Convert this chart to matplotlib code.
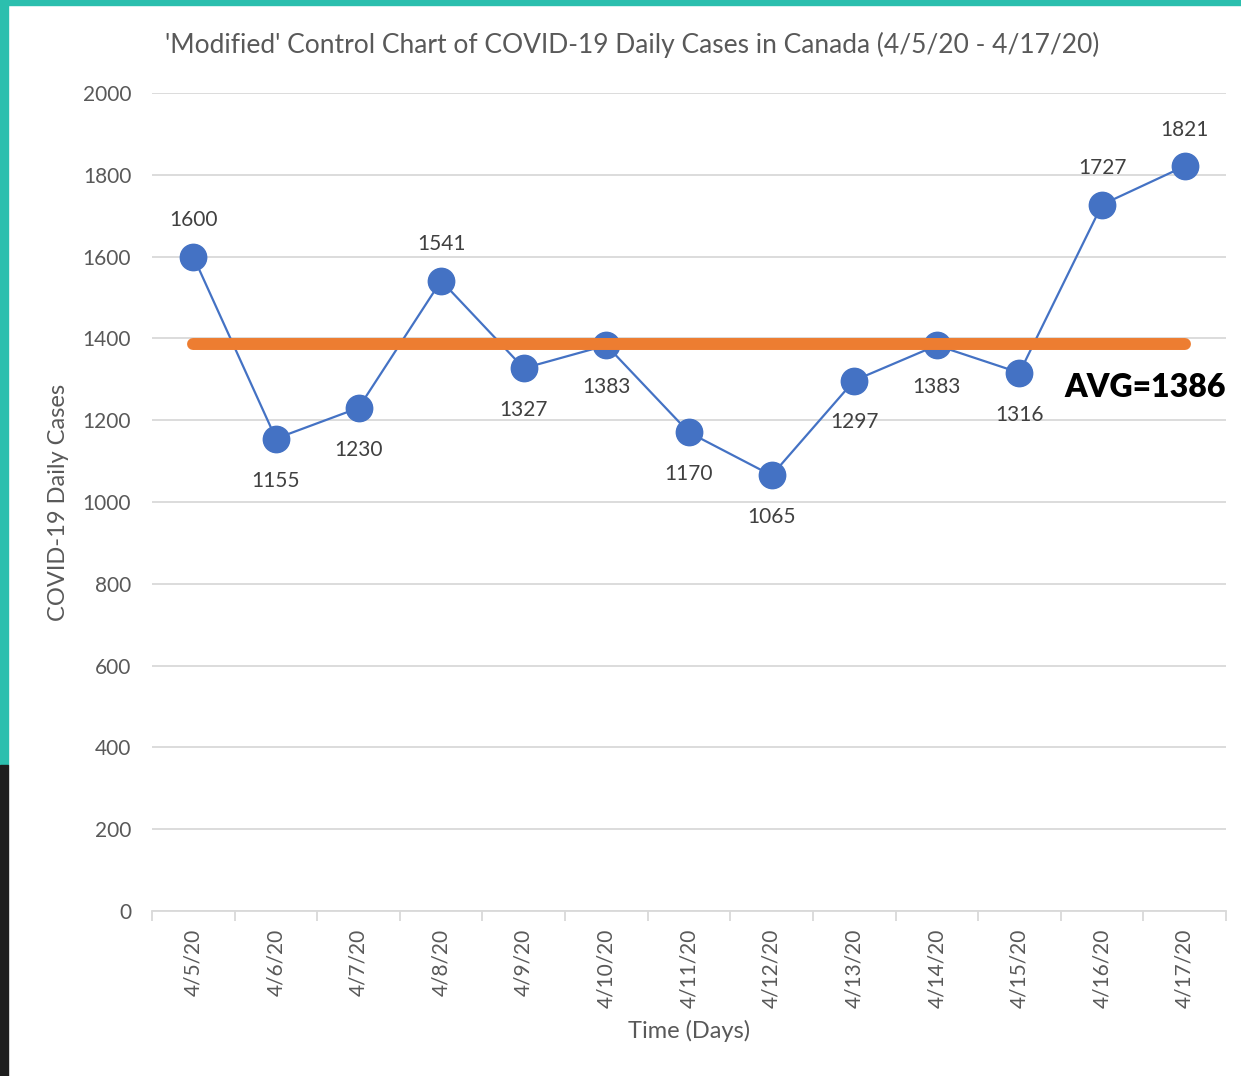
"""Modified control chart of COVID-19 daily cases in Canada"""

import matplotlib.pyplot as plt
from matplotlib.patches import Rectangle

days = ["4/5/20", "4/6/20", "4/7/20", "4/8/20", "4/9/20", "4/10/20", "4/11/20",
        "4/12/20", "4/13/20", "4/14/20", "4/15/20", "4/16/20", "4/17/20"]
cases = [1600, 1155, 1230, 1541, 1327, 1383, 1170, 1065, 1297, 1383, 1316, 1727, 1821]
avg = 1386
label_above = [True, False, False, True, False, False, False,
               False, False, False, False, True, True]

plt.rcParams["font.family"] = ["Lato", "DejaVu Sans"]
gray = "#595959"

fig = plt.figure(figsize=(12.41, 10.76), dpi=100)

# screenshot frame: teal border top/left, dark strip lower left
fig.patches.append(Rectangle((0, 0.995), 1, 0.005, transform=fig.transFigure,
                             color="#2bbfae", zorder=0))
fig.patches.append(Rectangle((0, 0.289), 0.0065, 0.711, transform=fig.transFigure,
                             color="#2bbfae", zorder=0))
fig.patches.append(Rectangle((0, 0), 0.0065, 0.289, transform=fig.transFigure,
                             color="#1e1e1e", zorder=0))

ax = fig.add_axes([0.1225, 0.1533, 0.8654, 0.7603])
x = list(range(len(days)))

ax.plot(x, cases, color="#4472C4", lw=1.6, marker="o", ms=19, zorder=3)
ax.plot([x[0], x[-1]], [avg, avg], color="#ED7D31", lw=8.6,
        solid_capstyle="round", zorder=4)

for xi, val, up in zip(x, cases, label_above):
    if up:
        ax.annotate(str(val), (xi, val), xytext=(0, 19), textcoords="offset points",
                    ha="center", va="bottom", fontsize=15, color="#404040")
    else:
        ax.annotate(str(val), (xi, val), xytext=(0, -23), textcoords="offset points",
                    ha="center", va="top", fontsize=15, color="#404040")

ax.text(1.0, avg - 106, "AVG=1386", transform=ax.get_yaxis_transform(),
        ha="right", va="center", fontsize=23, fontweight="heavy", color="black")

ax.set_xlim(-0.5, len(days) - 0.5)
ax.set_ylim(0, 2000)
ax.set_yticks(range(0, 2001, 200))
ax.set_xticks(x)
ax.set_xticklabels(days, rotation=90)
ax.set_xticks([i - 0.5 for i in range(len(days) + 1)], minor=True)

ax.grid(axis="y", color="#d9d9d9", lw=1.3)
ax.set_axisbelow(True)
for side in ["top", "right", "left"]:
    ax.spines[side].set_visible(False)
ax.spines["bottom"].set_color("#d9d9d9")
ax.spines["bottom"].set_linewidth(1.3)

ax.tick_params(axis="y", length=0, pad=15, labelsize=15, labelcolor=gray)
ax.tick_params(axis="x", which="major", length=0, pad=13, labelsize=15, labelcolor=gray)
ax.tick_params(axis="x", which="minor", length=7, width=1.3, color="#d9d9d9")

ax.set_title("'Modified' Control Chart of COVID-19 Daily Cases in Canada (4/5/20 - 4/17/20)",
             fontsize=19, color=gray, pad=29, x=0.447)
ax.set_xlabel("Time (Days)", fontsize=17, color=gray)
ax.set_ylabel("COVID-19 Daily Cases", fontsize=17, color=gray)
ax.xaxis.set_label_coords(0.5, -0.1467)
ax.yaxis.set_label_coords(-0.0875, 0.5)
ax.xaxis.label.set_va("center")
ax.yaxis.label.set_va("center")

fig.savefig("out.png", dpi=100)
